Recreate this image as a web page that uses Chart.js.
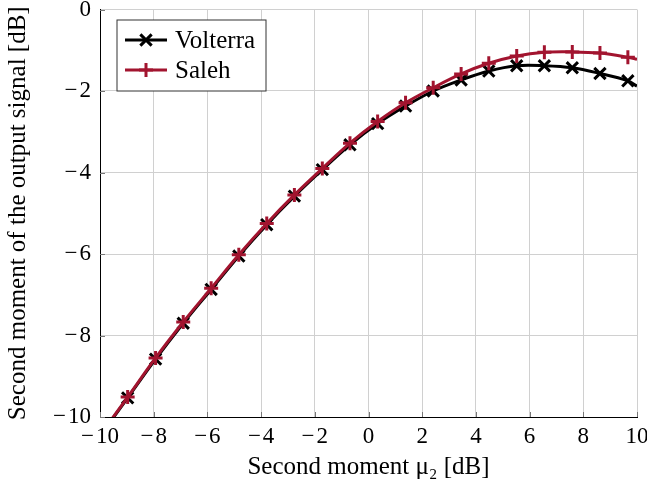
<!DOCTYPE html>
<html lang="en">
  <head>
    <meta charset="UTF-8" />
    <title>Second moment</title>
    <script src="https://cdn.jsdelivr.net/npm/chart.js@4.4.0/dist/chart.umd.min.js"></script>
    <style>
      body { margin: 0; background: #fff; }
    </style>
  </head>
  <body>
    <canvas id="myChart" width="647" height="486"></canvas>

    <script>
      // input second moment mu_2 [dB]
      const mu2_db = [-10, -8.97, -7.93, -6.90, -5.86, -4.83, -3.79, -2.76, -1.72, -0.69,
        0.34, 1.38, 2.41, 3.45, 4.48, 5.52, 6.55, 7.59, 8.62, 9.66, 10];

      // output second moment [dB]
      const volterra_out = [-10.47, -9.53, -8.58, -7.70, -6.87, -6.05, -5.28, -4.58, -3.93, -3.32,
        -2.80, -2.37, -2.00, -1.73, -1.51, -1.38, -1.38, -1.43, -1.57, -1.75, -1.88];
      const saleh_out = [-10.45, -9.51, -8.55, -7.67, -6.84, -6.02, -5.25, -4.55, -3.90, -3.28,
        -2.75, -2.29, -1.92, -1.58, -1.32, -1.14, -1.05, -1.04, -1.07, -1.17, -1.22];

      const x_ticks = [-10, -8, -6, -4, -2, 0, 2, 4, 6, 8, 10];
      const y_ticks = [-10, -8, -6, -4, -2, 0];

      const serif = "'Liberation Serif', 'Times New Roman', serif";
      const red = "#a2142f";

      // TeX style minus: a bit wider than the plain glyph
      function fmt(v) {
        return v < 0 ? "\u2212\u200a" + Math.abs(v) : String(v);
      }

      function toPoints(ys) {
        return mu2_db.map((x, i) => ({ x: x, y: ys[i] }));
      }

      // no marks on the two end points of each curve
      function markRadius(r) {
        return (ctx) => (ctx.dataIndex === 0 || ctx.dataIndex === mu2_db.length - 1 ? 0 : r);
      }

      // small inward tick marks, like pgfplots
      const innerTicks = {
        id: "innerTicks",
        beforeDatasetsDraw(chart) {
          const { ctx, chartArea, scales } = chart;
          ctx.save();
          ctx.strokeStyle = "#777";
          ctx.lineWidth = 1;
          ctx.beginPath();
          x_ticks.forEach((v) => {
            const px = Math.round(scales.x.getPixelForValue(v)) + 0.5;
            ctx.moveTo(px, chartArea.bottom);
            ctx.lineTo(px, chartArea.bottom - 5);
          });
          y_ticks.forEach((v) => {
            const py = Math.round(scales.y.getPixelForValue(v)) + 0.5;
            ctx.moveTo(chartArea.left, py);
            ctx.lineTo(chartArea.left + 5, py);
          });
          ctx.stroke();
          ctx.restore();
        },
      };

      // boxed legend with line + marker samples
      const boxLegend = {
        id: "boxLegend",
        afterDraw(chart) {
          const { ctx, chartArea } = chart;
          const left = chartArea.left + 17;
          const top = chartArea.top + 10.5;
          const rowH = 30;
          const sets = chart.data.datasets;
          ctx.save();
          ctx.fillStyle = "#fff";
          ctx.fillRect(left, top, 149, 71);
          ctx.strokeStyle = "#333";
          ctx.lineWidth = 1;
          ctx.strokeRect(left, top, 149, 71);
          sets.forEach((ds, i) => {
            const cy = top + 20 + i * rowH;
            ctx.strokeStyle = ds.borderColor;
            ctx.lineWidth = ds.borderWidth;
            ctx.beginPath();
            ctx.moveTo(left + 8, cy);
            ctx.lineTo(left + 50, cy);
            ctx.stroke();
            Chart.helpers.drawPoint(ctx, {
              pointStyle: ds.pointStyle,
              radius: ds.legendRadius,
              borderWidth: ds.borderWidth,
              rotation: 0,
            }, left + 29, cy);
            ctx.fillStyle = "#000";
            ctx.font = "25px " + serif;
            ctx.textBaseline = "middle";
            ctx.fillText(ds.label, left + 58, cy + 1);
          });
          ctx.restore();
        },
      };

      const chartCtx = document.getElementById("myChart").getContext("2d");

      const myChart = new Chart(chartCtx, {
        type: "line",
        data: {
          datasets: [
            {
              label: "Volterra",
              data: toPoints(volterra_out),
              borderColor: "#000",
              backgroundColor: "#000",
              borderWidth: 3,
              pointStyle: "crossRot",
              pointRadius: markRadius(8),
              legendRadius: 8,
              pointBorderWidth: 3,
              tension: 0.35,
              order: 1,
            },
            {
              label: "Saleh",
              data: toPoints(saleh_out),
              borderColor: red,
              backgroundColor: red,
              borderWidth: 3,
              pointStyle: "cross",
              pointRadius: markRadius(7),
              legendRadius: 7,
              pointBorderWidth: 3,
              tension: 0.35,
              order: 0,
            },
          ],
        },
        options: {
          responsive: false,
          animation: false,
          devicePixelRatio: 1,
          layout: { padding: { top: 9.5, right: 10, left: 0, bottom: 0 } },
          plugins: {
            legend: { display: false },
            tooltip: { enabled: false },
          },
          scales: {
            x: {
              type: "linear",
              min: -10,
              max: 10,
              afterBuildTicks: (s) => { s.ticks = x_ticks.map((v) => ({ value: v })); },
              afterFit: (s) => {
                s.height = 69;
                s.paddingLeft = 0;
                s.paddingRight = 0;
              },
              grid: { color: "#d0d0d0", lineWidth: 1, drawTicks: false },
              border: { display: true, color: "#000", width: 1 },
              ticks: {
                padding: 6,
                maxRotation: 0,
                color: "#000",
                font: { family: serif, size: 23 },
                callback: (v) => fmt(v),
              },
              title: {
                display: true,
                text: "Second moment \u03bc\u2082 [dB]",
                color: "#000",
                font: { family: serif, size: 25 },
                padding: { top: 0, bottom: 4 },
              },
            },
            y: {
              type: "linear",
              min: -10,
              max: 0,
              afterBuildTicks: (s) => { s.ticks = y_ticks.map((v) => ({ value: v })); },
              afterFit: (s) => {
                s.width = 100;
                s.paddingTop = 0;
                s.paddingBottom = 0;
              },
              grid: { color: "#d0d0d0", lineWidth: 1, drawTicks: false },
              border: { display: true, color: "#000", width: 1 },
              ticks: {
                padding: 9,
                color: "#000",
                font: { family: serif, size: 23 },
                callback: (v) => fmt(v),
              },
              title: {
                display: true,
                text: "Second moment of the output signal [dB]",
                color: "#000",
                font: { family: serif, size: 25 },
                padding: { top: 3, bottom: 0 },
              },
            },
          },
        },
        plugins: [innerTicks, boxLegend],
      });
    </script>
  </body>
</html>
